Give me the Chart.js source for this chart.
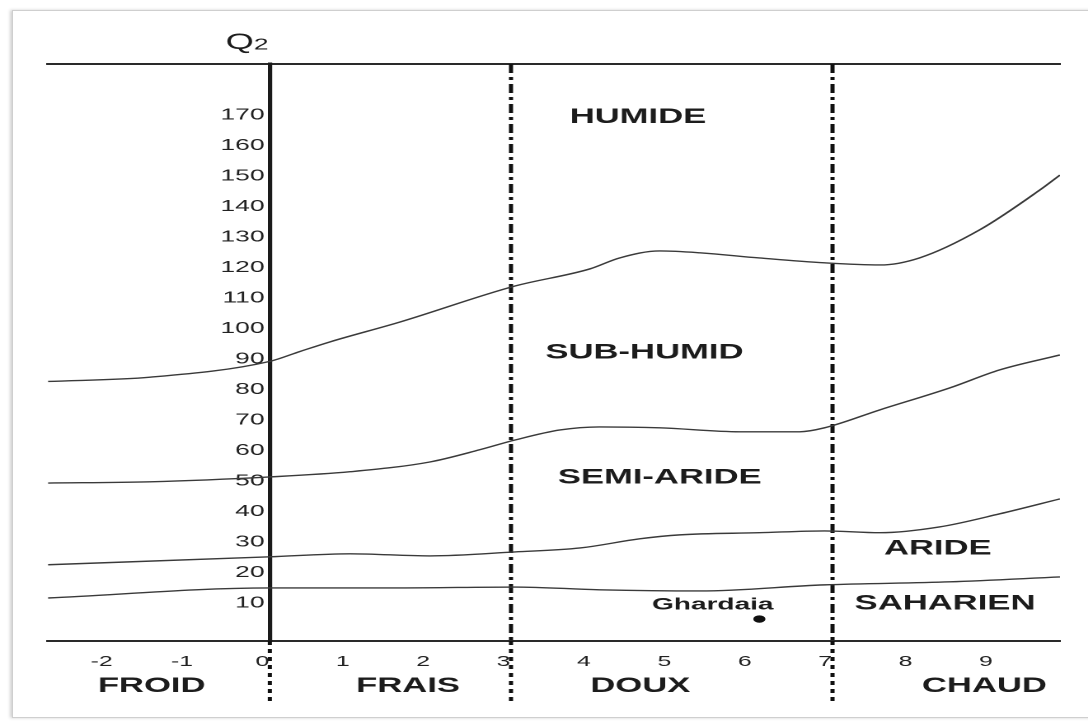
<!DOCTYPE html>
<html>
<head>
<meta charset="utf-8">
<script src="https://cdn.jsdelivr.net/npm/chart.js@4"></script>
<style>
  html, body { margin: 0; padding: 0; background: #fff; overflow: hidden; }
  #frame {
    position: absolute; left: 12px; top: 10px; width: 1100px; height: 706px;
    border: 1px solid #cfcfcf; box-shadow: -2px 0 3px rgba(0,0,0,0.18);
  }
  /* the scan is stretched horizontally, so the whole chart is too */
  #wrap {
    position: absolute; left: 0; top: 0; width: 660px; height: 721px;
    transform: scaleX(1.6485); transform-origin: 0 0;
  }
</style>
</head>
<body>
<div id="frame"></div>
<div id="wrap"><canvas id="myChart"></canvas></div>
<script>
// axis ranges (M, in deg C  /  Q2)
const X_MIN = -2.76, X_MAX = 9.83;
const Y_MIN = -2.5, Y_MAX = 186.7;
const Y_BELOW = -22.5; // where the dotted boundary lines stop under the axis

const xTicks = [-2, -1, 0, 1, 2, 3, 4, 5, 6, 7, 8, 9];
const yTicks = [10, 20, 30, 40, 50, 60, 70, 80, 90, 100, 110, 120, 130, 140, 150, 160, 170];

// limits between the bioclimatic stages
const humideX = [-2.76, -1.49, 0, 0.37, 0.75, 1.62, 3.05, 3.98, 4.35, 4.85, 5.35, 6.09, 6.9, 7.59, 8.08, 8.83, 9.58, 9.83];
const humideY = [82.6, 84.0, 89.2, 92.4, 95.6, 102.1, 113.9, 119.5, 123.1, 125.4, 124.8, 123.1, 121.5, 120.8, 123.1, 132.3, 145.4, 150.3];

const subHumidX = [-2.76, -1.49, 0, 1.0, 1.99, 2.61, 3.05, 3.61, 4.1, 4.85, 5.85, 6.59, 6.9, 7.59, 8.46, 9.08, 9.83];
const subHumidY = [49.3, 49.7, 51.3, 53.0, 56.2, 60.2, 63.4, 66.7, 67.7, 67.4, 66.1, 66.1, 67.4, 73.3, 80.5, 86.4, 91.3];

const semiAridX = [-2.76, 0, 1.0, 1.99, 3.05, 3.86, 4.6, 5.1, 6.09, 6.9, 7.59, 8.33, 9.08, 9.83];
const semiAridY = [22.5, 25.1, 26.1, 25.4, 26.7, 28.0, 31.0, 32.3, 33.0, 33.6, 33.0, 34.9, 39.2, 44.1];

const arideX = [-2.76, 0, 1.62, 3.05, 4.1, 5.35, 6.9, 8.46, 9.83];
const arideY = [11.6, 14.9, 14.9, 15.2, 14.3, 13.9, 15.9, 16.9, 18.5];

// winter temperature classes
const boundaryX = [3, 7];
const zeroX = 0;

// station
const stationName = 'Ghardaia';
const stationX = 6.09;
const stationY = 4.7;

// text placed in the diagram
const zoneLabels = ['HUMIDE', 'SUB-HUMID', 'SEMI-ARIDE', 'ARIDE', 'SAHARIEN'];
const zoneX = [4.58, 4.66, 4.85, 8.31, 8.40];
const zoneY = [169.3, 92.0, 51.0, 27.7, 9.7];

const classLabels = ['FROID', 'FRAIS', 'DOUX', 'CHAUD'];
const classX = [-1.47, 1.72, 4.61, 8.89];
const classY = -17.4;

const toPts = (xs, ys) => xs.map((x, i) => ({x: x, y: ys[i]}));

const curveStyle = {
    showLine: true,
    borderColor: '#3a3a3a',
    borderWidth: 1.4,
    pointRadius: 0,
    cubicInterpolationMode: 'monotone',
    fill: false
};

const datasets = [
    Object.assign({label: 'humide', data: toPts(humideX, humideY)}, curveStyle),
    Object.assign({label: 'subhumid', data: toPts(subHumidX, subHumidY)}, curveStyle),
    Object.assign({label: 'semiaride', data: toPts(semiAridX, semiAridY)}, curveStyle),
    Object.assign({label: 'aride', data: toPts(arideX, arideY)}, curveStyle),
];

boundaryX.forEach(bx => {
    datasets.push({
        label: 'limit ' + bx,
        data: [{x: bx, y: Y_MAX}, {x: bx, y: Y_MIN}],
        showLine: true, borderColor: '#111', borderWidth: 2.5,
        borderDash: [9, 4, 3, 4], pointRadius: 0, tension: 0
    });
});
boundaryX.concat([zeroX]).forEach(bx => {
    datasets.push({
        label: 'limit below ' + bx,
        data: [{x: bx, y: Y_MIN}, {x: bx, y: Y_BELOW}],
        showLine: true, borderColor: '#111', borderWidth: 2.5,
        borderDash: [4, 4], pointRadius: 0, tension: 0, clip: false
    });
});

datasets.push({
    label: stationName,
    data: [{x: stationX, y: stationY}],
    showLine: false, pointRadius: 3.2,
    pointBackgroundColor: '#111', pointBorderColor: '#111'
});

const FONT = "'Liberation Sans', Arial, sans-serif";

const textPlugin = {
    id: 'zoneText',
    afterDatasetsDraw(chart) {
        const {ctx, scales: {x, y}} = chart;
        ctx.save();
        ctx.fillStyle = '#1c1c1c';
        ctx.textAlign = 'center';
        ctx.textBaseline = 'middle';
        ctx.font = 'bold 21px ' + FONT;
        zoneLabels.forEach((t, i) => {
            ctx.fillText(t, x.getPixelForValue(zoneX[i]), y.getPixelForValue(zoneY[i]));
        });
        classLabels.forEach((t, i) => {
            ctx.fillText(t, x.getPixelForValue(classX[i]), y.getPixelForValue(classY));
        });
        ctx.font = 'bold 17px ' + FONT;
        ctx.fillText(stationName, x.getPixelForValue(5.51), y.getPixelForValue(9.3));
        // Q2 title of the vertical axis
        const qx = x.getPixelForValue(-0.22), qy = y.getPixelForValue(193.6);
        ctx.font = '22px ' + FONT;
        ctx.textAlign = 'right';
        ctx.fillText('Q', qx + 1, qy);
        ctx.font = '16px ' + FONT;
        ctx.textAlign = 'left';
        ctx.fillText('2', qx + 1, qy + 2);
        ctx.restore();
    }
};

const config = {
    type: 'scatter',
    data: {datasets: datasets},
    options: {
        responsive: true,
        maintainAspectRatio: false,
        animation: false,
        devicePixelRatio: 2,
        layout: {padding: {left: 29.1, right: 17, top: 64, bottom: 40}},
        plugins: {legend: {display: false}, tooltip: {enabled: false}},
        scales: {
            x: {
                type: 'linear', position: 'bottom', min: X_MIN, max: X_MAX,
                afterBuildTicks: axis => { axis.ticks = xTicks.map(v => ({value: v})); },
                afterFit: axis => { axis.height = 40; },
                grid: {display: false, drawTicks: false},
                border: {display: true, width: 2, color: '#2a2a2a'},
                ticks: {
                    font: {family: FONT, size: 15}, color: '#222',
                    padding: 12, labelOffset: -4.5, maxRotation: 0, autoSkip: false,
                    callback: v => String(v)
                }
            },
            xTop: {
                type: 'linear', position: 'top', min: X_MIN, max: X_MAX,
                afterFit: axis => { axis.height = 0; },
                grid: {display: false, drawTicks: false},
                border: {display: true, width: 2, color: '#2a2a2a'},
                ticks: {display: false}
            },
            y: {
                type: 'linear', position: {x: 0}, min: Y_MIN, max: Y_MAX,
                afterBuildTicks: axis => { axis.ticks = yTicks.map(v => ({value: v})); },
                grid: {display: false, drawTicks: false},
                border: {display: true, width: 2.6, color: '#1a1a1a'},
                ticks: {font: {family: FONT, size: 16}, color: '#222', callback: v => v + '\u2009'}
            }
        }
    },
    plugins: [textPlugin]
};

const ctx = document.getElementById('myChart').getContext('2d');
const myChart = new Chart(ctx, config);
</script>
</body>
</html>
